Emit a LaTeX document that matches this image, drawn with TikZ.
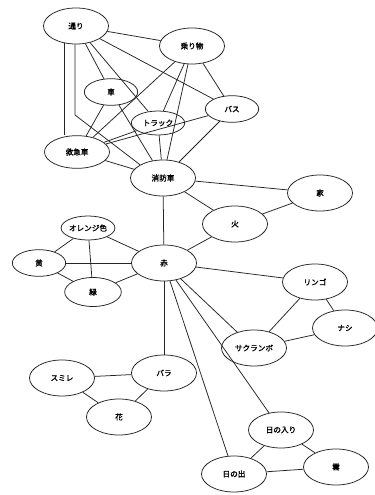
\documentclass[tikz,border=0pt]{standalone}
\usepackage{fontspec}
\setmainfont{Noto Sans CJK JP}[AutoFakeBold=1.5]
\usetikzlibrary{shapes.geometric}
\tikzset{
  word/.style={ellipse,draw=black!85,fill=white,line width=0.65pt,inner sep=0pt,
    minimum width=1.95cm,minimum height=1.08cm,font=\fontsize{6.5}{8}\selectfont\bfseries},
  small/.style={word,minimum width=1.6cm,minimum height=0.8cm},
  link/.style={draw=black!85,line width=0.65pt},
}
\begin{document}
\begin{tikzpicture}[x=0.03cm,y=-0.03cm]
\useasboundingbox[fill=white] (0,0) rectangle (375,495);
% vehicles
\node[word] (tori) at (76,26) {通り};
\node[word] (norimono) at (192,46) {乗り物};
\node[small] (kuruma) at (111,92) {車};
\node[small,minimum height=0.72cm] (truck) at (158,123) {トラック};
\node[small] (bus) at (232,109) {バス};
\node[word,minimum height=0.98cm] (kyukyu) at (77,152) {救急車};
\node[word] (shobo) at (163,178) {消防車};
\node[word] (ie) at (320,193) {家};
\node[word] (hi) at (235,224) {火};
% colours
\node[small,minimum height=0.72cm] (orange) at (88,228) {オレンジ色};
\node[small] (ki) at (39,263) {黄};
\node[word] (aka) at (164,263) {赤};
\node[small,minimum width=1.7cm,minimum height=0.87cm] (midori) at (93,292) {緑};
% fruit
\node[word] (ringo) at (315,282) {リンゴ};
\node[word] (nashi) at (345,328) {ナシ};
\node[word] (sakuranbo) at (254,348) {サクランボ};
% flowers
\node[word] (sumire) at (62,378) {スミレ};
\node[word] (bara) at (164,373) {バラ};
\node[word] (hana) at (119,417) {花};
% sky
\node[word] (hinoiri) at (281,430) {日の入り};
\node[word] (kumo) at (336,467) {雲};
\node[word] (hinode) at (234,474) {日の出};
\coordinate (bend) at (75,115);
\draw[link] (tori) -- (norimono);
\draw[link] (tori) -- (kuruma);
\draw[link] (tori) -- (truck);
\draw[link] (tori) -- (bus);
\draw[link] (tori.235) -- (tori.235 |- kyukyu.north);
\draw[link] (tori.south -| bend) -- (bend) -- (shobo.150);
\draw[link] (norimono) -- (truck);
\draw[link] (norimono) -- (bus);
\draw[link] (norimono) -- (kyukyu);
\draw[link] (norimono) -- (shobo);
\draw[link] (kuruma) -- (kyukyu);
\draw[link] (kuruma) -- (shobo);
\draw[link] (truck) -- (kyukyu);
\draw[link] (truck) -- (shobo);
\draw[link] (bus) -- (kyukyu);
\draw[link] (bus) -- (shobo);
\draw[link] (kyukyu) -- (shobo);
\draw[link] (shobo) -- (ie);
\draw[link] (shobo) -- (hi);
\draw[link] (ie) -- (hi);
\draw[link] (shobo) -- (aka);
\draw[link] (hi) -- (aka);
\draw[link] (orange) -- (ki);
\draw[link] (orange) -- (midori);
\draw[link] (orange) -- (aka);
\draw[link] (ki) -- (midori);
\draw[link] (ki) -- (aka);
\draw[link] (midori) -- (aka);
\draw[link] (aka) -- (ringo);
\draw[link] (aka) -- (sakuranbo);
\draw[link] (ringo) -- (sakuranbo);
\draw[link] (ringo) -- (nashi);
\draw[link] (sakuranbo) -- (nashi);
\draw[link] (aka) -- (bara);
\draw[link] (bara) -- (sumire);
\draw[link] (bara) -- (hana);
\draw[link] (sumire) -- (hana);
\draw[link] (aka) -- (hinoiri);
\draw[link] (aka) -- (hinode);
\draw[link] (hinoiri) -- (hinode);
\draw[link] (hinoiri) -- (kumo);
\draw[link] (hinode) -- (kumo);
\end{tikzpicture}
\end{document}
